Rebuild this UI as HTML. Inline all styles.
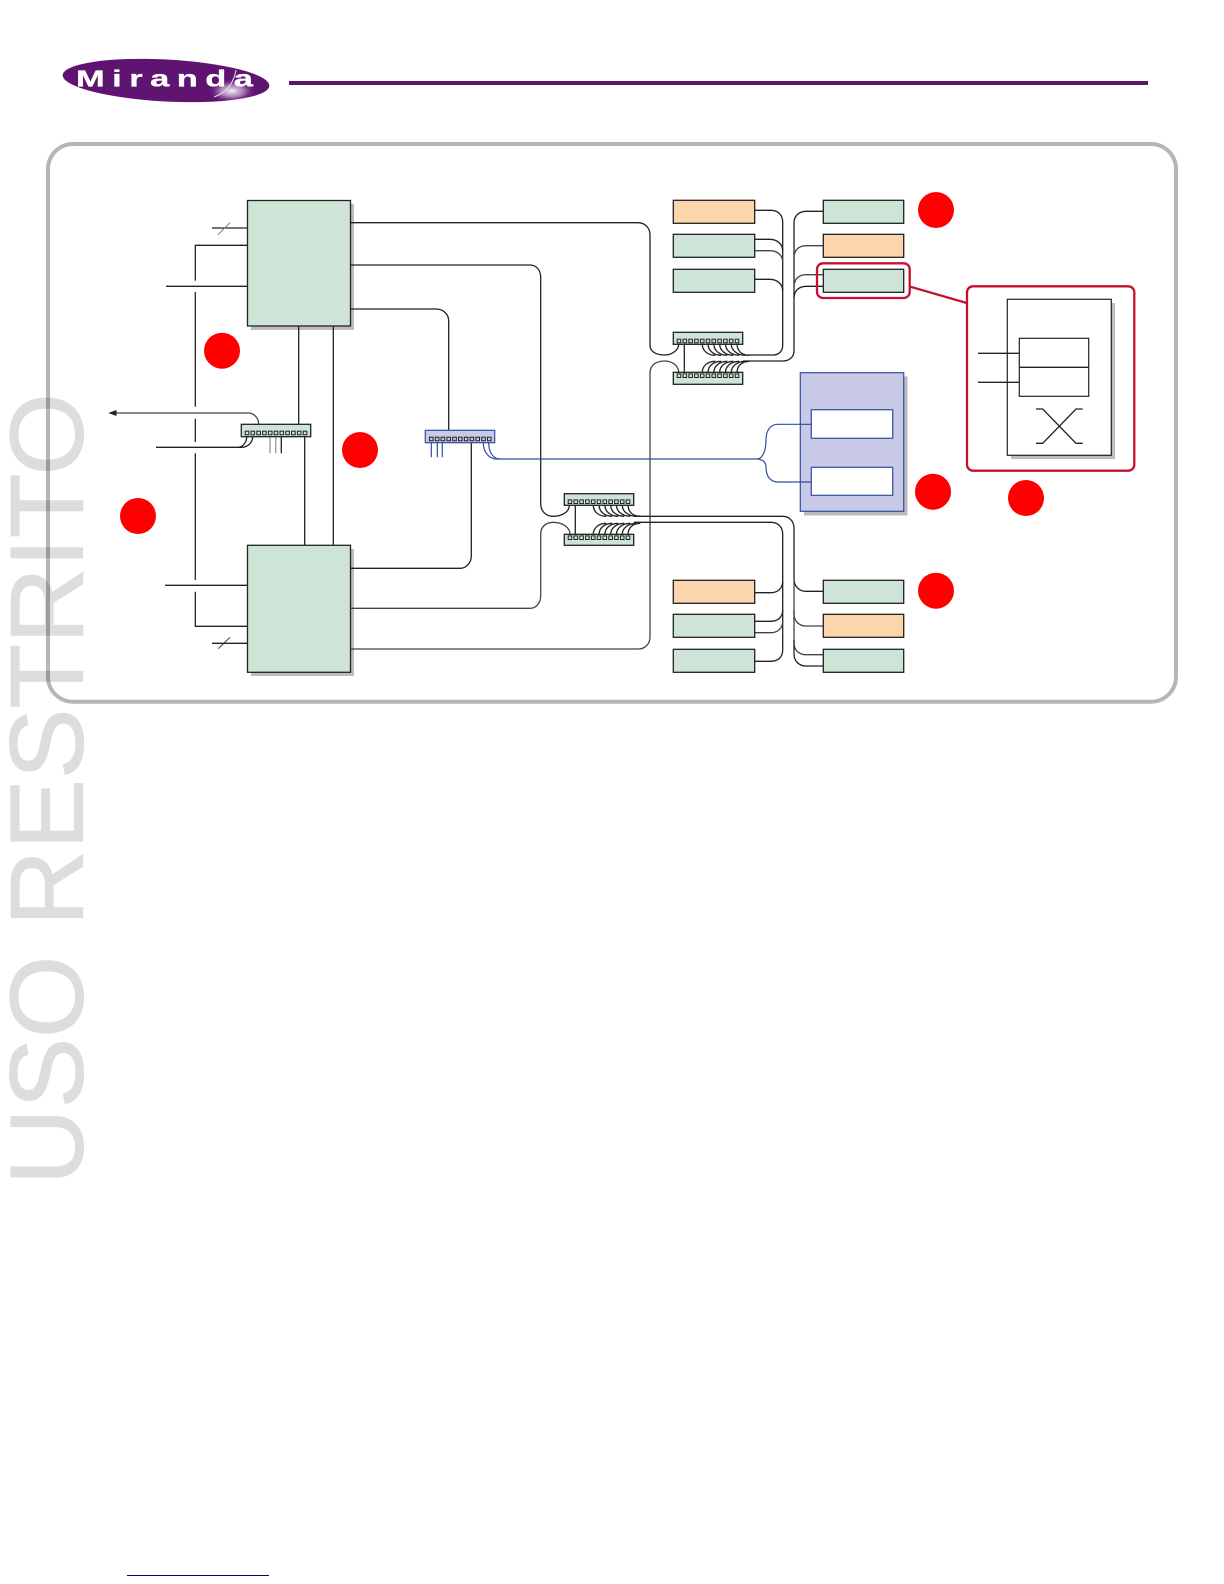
<!DOCTYPE html>
<html lang="en">
<head>
<meta charset="utf-8">
<title>Miranda diagram</title>
<style>
html,body{margin:0;padding:0;background:#fff;width:1224px;height:1584px;overflow:hidden}
svg{display:block}
.l{fill:none;stroke:#222;stroke-width:1.3}
.g{fill:none;stroke:#444;stroke-width:1.3}
.b{fill:none;stroke:#2f4f9f;stroke-width:1.2}
.r{fill:none;stroke:#c8102e;stroke-width:2.3}
.gr{fill:#cde4d6;stroke:#222;stroke-width:1.3}
.or{fill:#fdd5ac;stroke:#222;stroke-width:1.3}
.sh{fill:#bdbbbb}
.p{fill:none;stroke:#222;stroke-width:1}
</style>
</head>
<body>
<svg width="1224" height="1584" viewBox="0 0 1224 1584" xmlns="http://www.w3.org/2000/svg">
<defs>
<radialGradient id="glare" cx="0.5" cy="0.5" r="0.5">
<stop offset="0" stop-color="#fff" stop-opacity="0.95"/>
<stop offset="0.5" stop-color="#d9bfe0" stop-opacity="0.6"/>
<stop offset="1" stop-color="#5e1470" stop-opacity="0"/>
</radialGradient>
<clipPath id="ell"><ellipse cx="166" cy="80.500" rx="103.500" ry="21" transform="rotate(3 166 80.500)"/></clipPath>
<g id="ports">
<rect class="p" x="-1.800" y="-1.800" width="3.600" height="3.600"/>
<rect class="p" x="4" y="-1.800" width="3.600" height="3.600"/>
<rect class="p" x="9.800" y="-1.800" width="3.600" height="3.600"/>
<rect class="p" x="15.600" y="-1.800" width="3.600" height="3.600"/>
<rect class="p" x="21.400" y="-1.800" width="3.600" height="3.600"/>
<rect class="p" x="27.200" y="-1.800" width="3.600" height="3.600"/>
<rect class="p" x="33" y="-1.800" width="3.600" height="3.600"/>
<rect class="p" x="38.800" y="-1.800" width="3.600" height="3.600"/>
<rect class="p" x="44.600" y="-1.800" width="3.600" height="3.600"/>
<rect class="p" x="50.400" y="-1.800" width="3.600" height="3.600"/>
<rect class="p" x="56.200" y="-1.800" width="3.600" height="3.600"/>
</g>
<g id="fan">
<path class="l" d="M29 0C29 6 34 11 42 11"/>
<path class="l" d="M34.800 0C34.800 6 40 11 48 11"/>
<path class="l" d="M40.600 0C40.600 6 46 11 54 11"/>
<path class="l" d="M46.400 0C46.400 6 52 11 60 11"/>
<path class="l" d="M52.200 0C52.200 6 58 11 66 11"/>
<path class="l" d="M58 0C58 6 64 11 72 11"/>
<path class="l" d="M63.800 0C63.800 6 68 11 76 11"/>
</g>
</defs>

<!-- logo -->
<ellipse cx="166" cy="80.500" rx="103.500" ry="21" transform="rotate(3 166 80.500)" fill="#5e1470"/>
<ellipse cx="232" cy="91" rx="24" ry="12" fill="url(#glare)" clip-path="url(#ell)"/>
<text transform="translate(76,86.500) scale(1.5,1)" font-family="'Liberation Sans',sans-serif" font-weight="700" font-size="23" fill="#fff" stroke="#fff" stroke-width="0.3" textLength="118" lengthAdjust="spacing">Miranda</text>
<path d="M236 70C234 82 228 92 214 97" fill="none" stroke="#e9dcee" stroke-width="1"/>
<rect x="289" y="81" width="859" height="4" fill="#5a1a68"/>

<!-- frame -->
<rect x="48" y="144" width="1128" height="557.700" rx="25" fill="none" stroke="#b5b5b5" stroke-width="4"/>

<!-- shadows -->
<rect class="sh" x="251" y="204" width="103" height="126"/>
<rect class="sh" x="251" y="549" width="103" height="127"/>
<rect class="sh" x="804" y="376.500" width="103.500" height="139"/>

<!-- left side wiring -->
<path class="l" d="M212 228H247.500"/>
<path d="M218 234.700L230 222.700" fill="none" stroke="#777" stroke-width="1"/>
<path class="l" d="M247.500 245.300H195.300V280.700"/>
<path class="l" d="M166 286.300H247.500"/>
<path class="l" d="M195.300 292V406.700M195.300 418.700V442M195.300 453.300V580M195.300 591.700V626.300H247.500"/>
<path class="l" d="M165 585.300H247.500"/>
<path class="l" d="M212 643.300H247.500"/>
<path d="M218.300 648.700L230 637.300" fill="none" stroke="#333" stroke-width="1"/>
<path class="l" d="M298.700 326V424.300M304.700 436.700V545.300M333.300 326V545.300"/>
<path class="g" d="M116 413H248C254 413 258.700 418 258.700 424.300"/>
<path d="M108.300 413L116.500 410V416Z" fill="#222"/>
<path class="l" d="M156 447.300H238C243 447.300 246.700 442 246.700 436.700"/>
<path class="l" d="M238 447.300H241.700C247 447.300 252.700 443 252.700 436.700"/>
<path d="M270 436.700V453.300M275.700 436.700V453.300" fill="none" stroke="#999" stroke-width="1.300"/>
<path class="l" d="M281.300 436.700V453.300"/>

<!-- blocks -->
<rect class="gr" x="247.500" y="200.500" width="103" height="125.500"/>
<rect class="gr" x="247.500" y="545.300" width="103" height="127"/>

<!-- long runs -->
<path class="l" d="M350.500 222.700H638C645 222.700 650 228 650 235V345C650 351 655 355 665 355C672 355 678.700 350 678.700 344.300"/>
<path class="l" d="M350.500 265H530C536 265 540.700 270 540.700 277V504C540.700 511 546 516.300 553 516.300C562 516.300 569.300 512 569.300 505.300"/>
<path class="l" d="M350.500 309H436C443 309 448.700 314 448.700 321V430.300"/>
<path class="l" d="M350.500 568.300H460C466 568.300 471.300 563 471.300 556V442.700"/>
<path class="g" d="M350.500 608.300H530C536 608.300 540.700 603 540.700 596V534C540.700 527 546 522.300 553 522.300C562 522.300 570 527 570 534.300"/>
<path class="g" d="M350.500 649H638C645 649 650 644 650 637V373C650 366 655 361 665 361C672 361 678.700 366 678.700 372.300"/>

<!-- blue switch wires -->
<path class="b" d="M431.300 442.700V457.300M437.300 442.700V457.300M442.300 442.700V457.300"/>
<path class="b" d="M483.300 442.700C483.300 452 489 459 497 459H756.700C762 459 766 452 766 440C766 431 770 424.300 778 424.300H811.300"/>
<path class="b" d="M488.700 442.700C488.700 452 493 459 500 459"/>
<path class="b" d="M756.700 459C762 459 766 462 766 467C766 476 770 482 778 482H811.300"/>

<!-- upper switches -->
<path class="l" d="M684.300 344.300V372.300"/>
<use href="#fan" x="673.300" y="344.300"/>
<use href="#fan" transform="translate(673.300,372.300) scale(1,-1)"/>
<path class="l" d="M743 355H773C779 355 782.700 351 782.700 345V222C782.700 215 778 210.300 771 210.300H754.700"/>
<path class="l" d="M754.700 239.300H770C777 239.300 782.700 244 782.700 251"/>
<path class="g" d="M754.700 250.700H770C777 250.700 782.700 255 782.700 262"/>
<path class="l" d="M754.700 279.300H770C777 279.300 782.700 284 782.700 291"/>
<path class="l" d="M743 361H783C789 361 794 357 794 351V223C794 216 799 211.300 806 211.300H823.300"/>
<path class="g" d="M794 258C794 250 799 245.700 806 245.700H823.300"/>
<path class="g" d="M794 287C794 279 799 274.700 806 274.700H823.300"/>
<path class="l" d="M794 298C794 291 799 286.300 806 286.300H823.300"/>

<!-- lower switches -->
<path class="l" d="M575.300 505.300V534.300"/>
<use href="#fan" x="564.300" y="505.300"/>
<use href="#fan" transform="translate(564.300,534.300) scale(1,-1)"/>
<path class="l" d="M634 516.300H783C789 516.300 794 521 794 528V579C794 586 799 591.300 806 591.300H823.300"/>
<path class="g" d="M794 575V614C794 621 799 626 806 626H823.300"/>
<path class="g" d="M794 610V643C794 650 799 654.700 806 654.700H823.300"/>
<path class="l" d="M794 640V654C794 661 799 666 806 666H823.300"/>
<path class="l" d="M634 522.300H771C778 522.300 782.700 527 782.700 534V650C782.700 657 778 661.300 771 661.300H754.700"/>
<path class="l" d="M754.700 592.700H771C778 592.700 782.700 588 782.700 581"/>
<path class="l" d="M754.700 621.300H771C778 621.300 782.700 617 782.700 610"/>
<path class="g" d="M754.700 632.700H771C778 632.700 782.700 628 782.700 621"/>

<!-- switches -->
<rect class="gr" x="241.300" y="424.300" width="69.400" height="12.400"/>
<use href="#ports" x="247" y="433"/>
<rect x="425.300" y="430.300" width="69.400" height="12.400" fill="#c9c9e8" stroke="#2f4f9f" stroke-width="1.200"/>
<use href="#ports" x="431.300" y="439"/>
<rect class="gr" x="673.300" y="332.300" width="69.400" height="12"/>
<use href="#ports" x="679" y="341"/>
<rect class="gr" x="673.300" y="372.300" width="69.400" height="12"/>
<use href="#ports" x="679" y="375.700"/>
<rect class="gr" x="564.300" y="493.700" width="69.400" height="11.600"/>
<use href="#ports" x="570" y="501.700"/>
<rect class="gr" x="564.300" y="534.300" width="69.400" height="11"/>
<use href="#ports" x="570" y="537.700"/>

<!-- upper boxes -->
<rect class="or" x="673.300" y="200.300" width="81.400" height="23"/>
<rect class="gr" x="673.300" y="234.300" width="81.400" height="23"/>
<rect class="gr" x="673.300" y="269.300" width="81.400" height="23"/>
<rect class="gr" x="823.300" y="200.300" width="80.400" height="23"/>
<rect class="or" x="823.300" y="234.300" width="80.400" height="23"/>
<rect class="gr" x="823.300" y="269.300" width="80.400" height="23"/>

<!-- lower boxes -->
<rect class="or" x="673.300" y="580.300" width="81.400" height="23"/>
<rect class="gr" x="673.300" y="614.300" width="81.400" height="23"/>
<rect class="gr" x="673.300" y="649.300" width="81.400" height="23"/>
<rect class="gr" x="823.300" y="580.300" width="80.400" height="23"/>
<rect class="or" x="823.300" y="614.300" width="80.400" height="23"/>
<rect class="gr" x="823.300" y="649.300" width="80.400" height="23"/>

<!-- blue box -->
<rect x="800.300" y="372.700" width="103.400" height="138.600" fill="#c9c9e8" stroke="#2f4f9f" stroke-width="1.200"/>
<rect x="811.300" y="409.700" width="81.400" height="28.600" fill="#fff" stroke="#2f4f9f" stroke-width="1.200"/>
<rect x="811.300" y="467.300" width="81.400" height="28" fill="#fff" stroke="#2f4f9f" stroke-width="1.200"/>
<path class="b" d="M800.300 424.300H811.300M800.300 482H811.300"/>

<!-- callout -->
<rect class="r" x="817" y="263.300" width="92.700" height="34.700" rx="6"/>
<path class="r" d="M910.300 286.700L966.700 303"/>
<rect class="r" x="967" y="286.300" width="167.300" height="184.400" rx="6" fill="#fff"/>
<rect class="sh" x="1011" y="303" width="104" height="156"/>
<rect x="1007.300" y="299.300" width="104" height="156" fill="#fff" stroke="#222" stroke-width="1.200"/>
<rect x="1019.300" y="338.300" width="69.400" height="58" fill="#fff" stroke="#222" stroke-width="1.200"/>
<path class="l" d="M1019.300 367.300H1088.700M978 353.300H1019.300M978 382.300H1019.300"/>
<path class="l" d="M1036 409H1042.700L1076 443.300H1082.700M1036 443.300H1042.700L1076 409H1082.700"/>

<!-- red circles -->
<g fill="#f00">
<circle cx="222" cy="350.700" r="18"/>
<circle cx="360" cy="450" r="18"/>
<circle cx="138" cy="516" r="18"/>
<circle cx="936" cy="210" r="18"/>
<circle cx="936" cy="590.700" r="18"/>
<circle cx="933" cy="491.700" r="18"/>
<circle cx="1026" cy="498" r="18"/>
</g>

<!-- footer -->
<rect x="127" y="1575" width="142" height="1" fill="#00008b"/>

<!-- watermark -->
<g opacity="0.13">
<text transform="translate(82.500,1185) rotate(-90)" font-family="'Liberation Sans',sans-serif" font-size="104" fill="#000" stroke="#000" stroke-width="1.200" textLength="792" lengthAdjust="spacingAndGlyphs">USO RESTRITO</text>
</g>
</svg>
</body>
</html>
